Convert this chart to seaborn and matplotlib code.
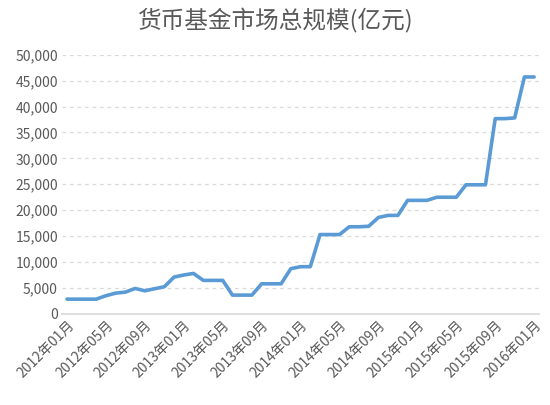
import matplotlib
matplotlib.use("Agg")
import matplotlib.pyplot as plt
import seaborn as sns
import pandas as pd
import numpy as np

months = [f"{y}年{m:02d}月" for y in range(2012, 2017) for m in range(1, 13)][:49]
values = [2840, 2840, 2840, 2840, 3500, 4000, 4200, 4900, 4450, 4850, 5230, 7100,
          7500, 7800, 6460, 6460, 6460, 3620, 3620, 3620, 5800, 5800, 5800, 8720,
          9100, 9100, 15300, 15300, 15300, 16800, 16800, 16900, 18600, 19000, 19000, 21900,
          21900, 21900, 22500, 22500, 22500, 24900, 24900, 24900, 37660, 37660, 37800, 45700,
          45700]

sns.set_theme(style="white")
plt.rcParams['font.family'] = ['Noto Sans CJK SC', 'DejaVu Sans']

df = pd.DataFrame({"idx": np.arange(len(months)), "v": values})
fig, ax = plt.subplots(figsize=(5.5, 4.05), dpi=100)
fig.subplots_adjust(left=0.113, right=0.98, top=0.865, bottom=0.225)
sns.lineplot(data=df, x="idx", y="v", ax=ax, color="#5B9BD5", linewidth=2.6)
ax.set_ylim(0, 50000)
ax.set_xlim(-0.5, 48.5)
ax.set_yticks(range(0, 50001, 5000))
ax.set_yticklabels([f"{t:,}" for t in range(0, 50001, 5000)], color="#595959", fontsize=10)
ax.set_xticks(range(0, 49, 4))
ax.set_xticklabels(months[::4], rotation=45, ha="right", rotation_mode="anchor", color="#595959", fontsize=10)
ax.grid(axis="y", linestyle=(0, (3, 3)), color="#D9D9D9", linewidth=0.9)
for s in ["left", "right", "top"]:
    ax.spines[s].set_visible(False)
ax.spines["bottom"].set_color("#D9D9D9")
ax.tick_params(axis="both", length=0, pad=3)
ax.set_xlabel("")
ax.set_ylabel("")
fig.suptitle("货币基金市场总规模(亿元)", fontsize=17, color="#595959", y=0.98)
fig.savefig("out.png", dpi=100)
